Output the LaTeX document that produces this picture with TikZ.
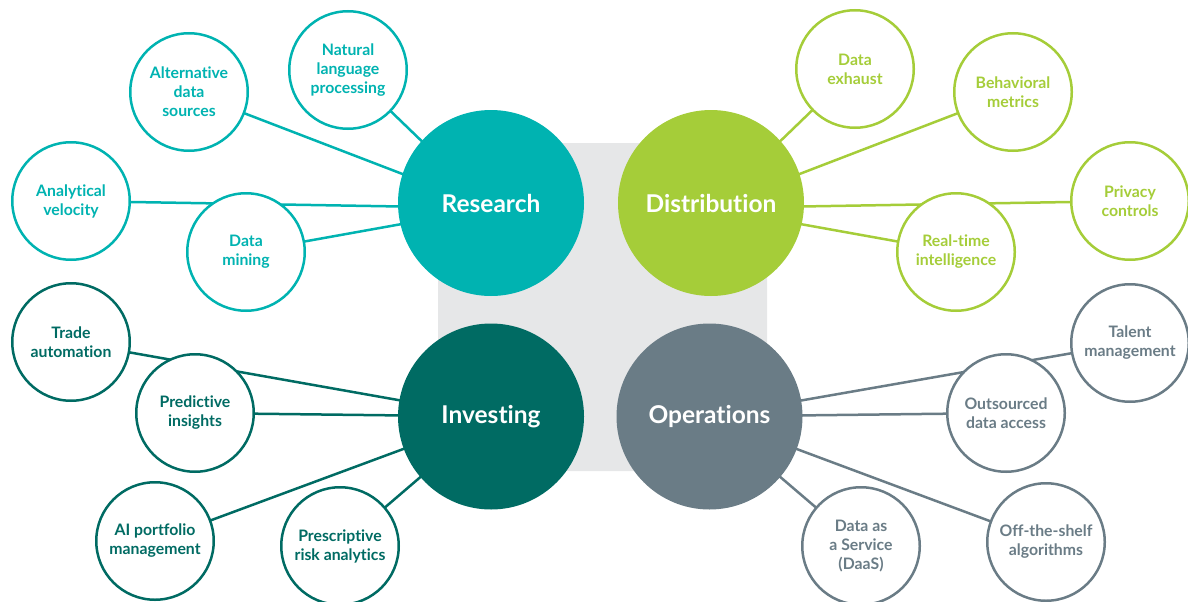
\documentclass[tikz,border=0pt]{standalone}
\usepackage{fontspec}
\setmainfont{Lato}[Ligatures=NoCommon]
\usetikzlibrary{backgrounds}
\definecolor{resC}{HTML}{00B3B1}
\definecolor{disC}{HTML}{A5CD39}
\definecolor{invC}{HTML}{006B63}
\definecolor{opsC}{HTML}{6A7C86}
\definecolor{bgC}{HTML}{E6E7E8}
\begin{document}
\begin{tikzpicture}[x=1pt,y=-1pt,
  big/.style={circle, minimum size=186pt, inner sep=0pt, outer sep=0pt, text=white, font=\fontsize{24.5}{28}\selectfont\bfseries},
  small/.style={circle, minimum size=117.5pt, inner sep=0pt, outer sep=0pt, line width=2.5pt, fill=white, align=center, font=\fontsize{15.8}{19}\selectfont\bfseries},
  link/.style={line width=2.5pt},
  resS/.style={small, draw=resC, text=resC},
  disS/.style={small, draw=disC, text=disC},
  invS/.style={small, draw=invC, text=invC},
  opsS/.style={small, draw=opsC, text=opsC}]
\useasboundingbox (0,0) rectangle (1188,602);
% big circles
\node[big, fill=resC] (research) at (491,203) {Research};
\node[big, fill=disC] (distribution) at (711,203) {Distribution};
\node[big, fill=invC] (investing) at (491,416.5) {Investing};
\node[big, fill=opsC] (operations) at (709.5,416.5) {Operations};
\coordinate (resHub) at (491,208);
\coordinate (disHub) at (711,208);
% research
\node[resS] (nlp) at (348,70) {Natural\\language\\processing};
\node[resS] (alt) at (189,92) {Alternative\\data\\sources};
\node[resS] (anv) at (71,201) {Analytical\\velocity};
\node[resS] (dmin) at (246,252) {Data\\mining};
% distribution
\node[disS] (dex) at (855,69) {Data\\exhaust};
\node[disS] (beh) at (1013,92) {Behavioral\\metrics};
\node[disS] (priv) at (1130,201) {Privacy\\controls};
\node[disS] (rti) at (956,252) {Real-time\\intelligence};
% investing
\node[invS] (trade) at (71,342) {Trade\\automation};
\node[invS] (pred) at (195,413) {Predictive\\insights};
\node[invS] (aip) at (155,541) {AI portfolio\\management};
\node[invS] (presc) at (340,546) {Prescriptive\\risk analytics};
% operations
\node[opsS] (talent) at (1130,343) {Talent\\management};
\node[opsS] (outs) at (1006,413) {Outsourced\\data access};
\node[opsS] (daas) at (861,546) {Data as\\a Service\\(DaaS)};
\node[opsS] (ots) at (1046,542) {Off-the-shelf\\algorithms};
\begin{scope}[on background layer]
  \fill[bgC, rounded corners=60pt] (438,143) rectangle (767,471);
  \draw[link, resC] (nlp.center) -- (resHub);
  \draw[link, resC] (alt.center) -- (resHub);
  \draw[link, resC] (anv.center) -- (resHub);
  \draw[link, resC] (dmin.center) -- (resHub);
  \draw[link, disC] (dex.center) -- (disHub);
  \draw[link, disC] (beh.center) -- (disHub);
  \draw[link, disC] (priv.center) -- (disHub);
  \draw[link, disC] (rti.center) -- (disHub);
  \draw[link, invC] (trade.center) -- (investing.center);
  \draw[link, invC] (pred.center) -- (investing.center);
  \draw[link, invC] (aip.center) -- (investing.center);
  \draw[link, invC] (presc.center) -- (investing.center);
  \draw[link, opsC] (talent.center) -- (operations.center);
  \draw[link, opsC] (outs.center) -- (operations.center);
  \draw[link, opsC] (daas.center) -- (operations.center);
  \draw[link, opsC] (ots.center) -- (operations.center);
\end{scope}
\end{tikzpicture}
\end{document}
